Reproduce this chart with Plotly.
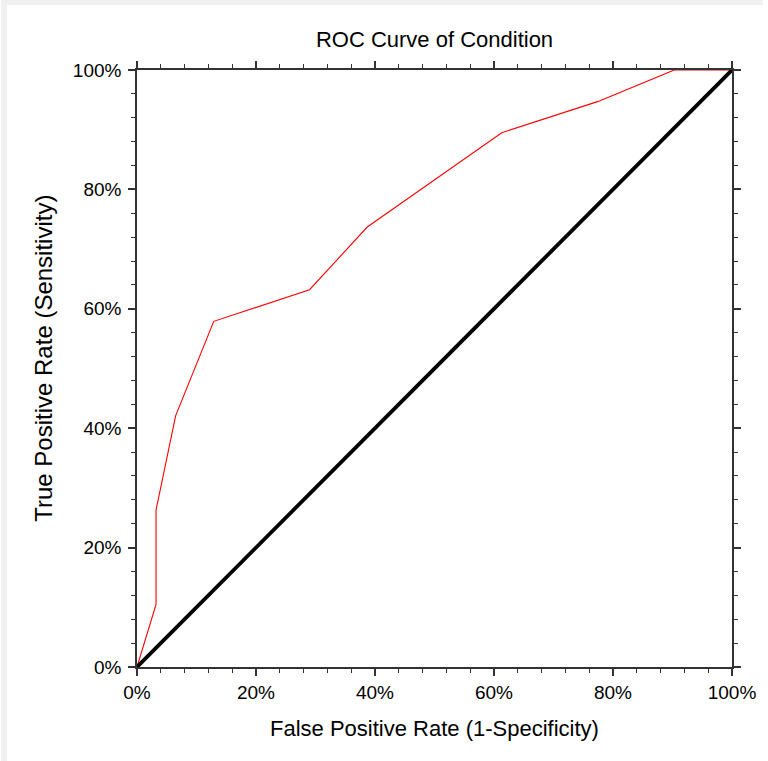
import plotly.graph_objects as go

# ROC curve points (false positive rate, true positive rate)
fpr = [0.0, 0.032, 0.032, 0.065, 0.129, 0.290, 0.387, 0.613, 0.774, 0.903, 1.0]
tpr = [0.0, 0.105, 0.263, 0.421, 0.579, 0.632, 0.737, 0.895, 0.947, 1.0, 1.0]

# chance (reference) diagonal
ref_x = [0.0, 1.0]
ref_y = [0.0, 1.0]

tick_vals = [0.0, 0.2, 0.4, 0.6, 0.8, 1.0]
tick_text = ["0%", "20%", "40%", "60%", "80%", "100%"]

W, H = 768, 761
L, R, T, B = 137, 31, 70, 94
plot_w = W - L - R
plot_h = H - T - B

FONT = "Arial, Liberation Sans, Helvetica, sans-serif"

fig = go.Figure()
fig.add_trace(go.Scatter(
    x=fpr, y=tpr, mode="lines",
    line=dict(color="#ff0000", width=1.1),
    cliponaxis=False, showlegend=False, hoverinfo="skip",
))
fig.add_trace(go.Scatter(
    x=ref_x, y=ref_y, mode="lines",
    line=dict(color="#000000", width=3.8),
    cliponaxis=False, showlegend=False, hoverinfo="skip",
))

axis_common = dict(
    range=[0, 1],
    tickmode="array",
    tickvals=tick_vals,
    ticktext=tick_text,
    ticks="outside",
    ticklen=7,
    tickwidth=1.5,
    tickcolor="#333333",
    showline=True,
    linecolor="#333333",
    linewidth=1.5,
    mirror="allticks",
    showgrid=False,
    zeroline=False,
    tickfont=dict(family=FONT, size=19, color="#000000"),
    minor=dict(dtick=0.04, tick0=0, ticks="outside", ticklen=4,
               tickwidth=1.2, tickcolor="#333333", showgrid=False),
    fixedrange=True,
)

fig.update_xaxes(**axis_common, ticklabelstandoff=0)
fig.update_yaxes(**axis_common, ticklabelstandoff=3)


def px_x(px):
    return (px - L) / plot_w


def px_y(py):
    return (H - B - py) / plot_h


# light grey frame along top and left edges of the canvas
shapes = [
    dict(type="rect", xref="paper", yref="paper", layer="below",
         x0=px_x(0), x1=px_x(W), y0=px_y(5), y1=px_y(0),
         fillcolor="#f0f0f0", line=dict(width=0)),
    dict(type="rect", xref="paper", yref="paper", layer="below",
         x0=px_x(0), x1=px_x(6), y0=px_y(H), y1=px_y(0),
         fillcolor="#f0f0f0", line=dict(width=0)),
]

annotations = [
    dict(text="False Positive Rate (1-Specificity)", xref="paper", yref="paper",
         x=0.5, y=px_y(728), xanchor="center", yanchor="middle", showarrow=False,
         font=dict(family=FONT, size=22, color="#000000")),
    dict(text="True Positive Rate (Sensitivity)", xref="paper", yref="paper",
         x=px_x(42), y=px_y(358), xanchor="center", yanchor="middle", showarrow=False,
         textangle=-90, font=dict(family=FONT, size=24, color="#000000")),
]

fig.update_layout(
    width=W, height=H,
    margin=dict(l=L, r=R, t=T, b=B, pad=0),
    paper_bgcolor="#ffffff",
    plot_bgcolor="#ffffff",
    title=dict(text="ROC Curve of Condition", x=0.5, xref="paper",
               y=1 - 39 / H, yref="container", xanchor="center", yanchor="middle",
               font=dict(family=FONT, size=22, color="#000000")),
    shapes=shapes,
    annotations=annotations,
    showlegend=False,
)

fig.write_html("out.html")
